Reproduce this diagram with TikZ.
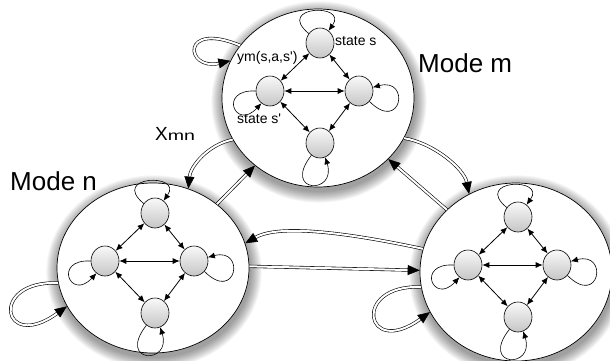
\documentclass[tikz,border=0pt]{standalone}
\usepackage{fontspec}
\setmainfont{Liberation Sans}
\usetikzlibrary{shapes.geometric,arrows.meta}
\newcommand\innergraph[2]{%
 \begin{scope}[shift={#2}]
  \node[st] (#1T) at (2,55) {};
  \node[st] (#1L) at (-48,7) {};
  \node[st] (#1R) at (41,7) {};
  \node[st] (#1B) at (2,-45) {};
  \draw[bi] (#1T) -- (#1L);
  \draw[bi] (#1T) -- (#1R);
  \draw[bi] (#1L) -- (#1R);
  \draw[bi] (#1L) -- (#1B);
  \draw[bi] (#1R) -- (#1B);
  \draw[selfl] (#1T.140) .. controls +(-34,28) and +(20,28) .. (#1T.55);
  \draw[selfl] (#1L.180) .. controls +(-38,2) and +(-26,-28) .. (#1L.235);
  \draw[selfl] (#1R.-45) .. controls +(32,-32) and +(38,10) .. (#1R.15);
  \draw[selfl] (#1B.235) .. controls +(-30,-38) and +(12,-38) .. (#1B.-70);
 \end{scope}}
\newcommand\glow[4]{%
 \foreach \i in {1,...,13}{%
  \pgfmathsetmacro\gx{#3+\i*0.9}\pgfmathsetmacro\gy{#4+\i*0.9}%
  \fill[black,opacity=0.035] (#1+1,#2-4) ellipse [x radius=\gx, y radius=\gy];}}
\begin{document}
\begin{tikzpicture}[x=1pt,y=1pt,
  mode/.style={ellipse,draw,fill=white,line width=0.7pt,inner sep=0pt},
  st/.style={ellipse,draw,line width=0.6pt,minimum width=28pt,minimum height=30pt,inner sep=0pt,top color=gray!5,bottom color=gray!45},
  bi/.style={line width=0.8pt,{Latex[length=7pt,width=6pt]}-{Latex[length=7pt,width=6pt]}},
  selfl/.style={line width=0.6pt,-{Latex[length=7pt,width=6pt]}},
  big/.style={double,double distance=2pt,line width=0.6pt,-{Triangle[length=12pt,width=10pt]}},
  lab/.style={font=\fontsize{14}{16}\selectfont,inner sep=0pt,anchor=base west},
  modelab/.style={font=\fontsize{26}{30}\selectfont,inner sep=0pt,anchor=base west}]
\useasboundingbox (0,0) rectangle (610,360);
\glow{318}{262}{96}{89}
\glow{153}{92}{96}{85}
\glow{516}{88}{96}{89}
\node[mode,minimum width=192pt,minimum height=178pt] (M) at (318,262) {};
\node[mode,minimum width=192pt,minimum height=170pt] (N) at (153,92) {};
\node[mode,minimum width=192pt,minimum height=178pt] (R) at (516,88) {};
\draw[big] (M.206) .. controls +(-25,-5) and +(2,22) .. (N.66);
\draw[big] (N.45) -- (M.227);
\draw[big] (M.335) .. controls +(30,-5) and +(-5,25) .. (R.121);
\draw[big] (R.138) -- (M.319);
\draw[big] (R.166) .. controls +(-70,15) and +(35,20) .. (N.15);
\draw[big] (N.1) -- (R.179);
\draw[big] (M.146) .. controls +(-60,25) and +(-45,-10) .. (M.157);
\draw[big] (N.189) .. controls +(-70,3) and +(-65,-47) .. (N.204);
\draw[big] (R.189) .. controls +(-70,3) and +(-65,-47) .. (R.205);
\innergraph{m}{(318,262)}
\innergraph{n}{(153,92)}
\innergraph{r}{(516,88)}
\node[modelab] (lm) at (418,288) {Mode m};
\node[modelab] (ln) at (10,170) {Mode n};
\node[anchor=base west,inner sep=0pt] (lx) at (155,220) {\fontsize{19}{20}\selectfont X\fontsize{14}{16}\selectfont\scalebox{1.4}[1]{mn}};
\node[lab] (ly) at (237,299) {ym(s,a,s\textquotesingle)};
\node[lab] (ls) at (335,315) {state s};
\node[lab] (lsp) at (237,237) {state s\textquotesingle};
\end{tikzpicture}
\end{document}
